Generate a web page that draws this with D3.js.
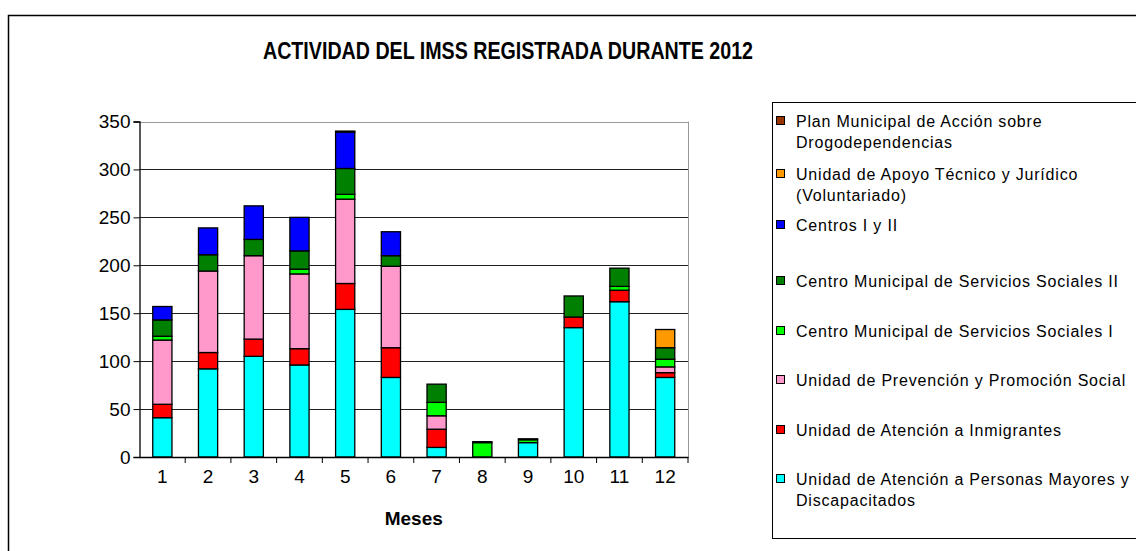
<!DOCTYPE html>
<html>
<head>
<meta charset="utf-8">
<script src="https://cdn.jsdelivr.net/npm/d3@7"></script>
<style>
  body { margin: 0; background: #fff; }
  svg { font-family: "Liberation Sans", Arial, sans-serif; }
</style>
</head>
<body>
<div id="chart"></div>
<script>
// Data
const months = ['1', '2', '3', '4', '5', '6', '7', '8', '9', '10', '11', '12'];
const yTicks = [0, 50, 100, 150, 200, 250, 300, 350];

const mayores      = [41, 92, 105, 96, 154, 83, 10, 0, 15, 135, 162, 83];
const inmigrantes  = [14, 17, 18, 17, 27, 31, 19, 0, 0, 11, 12, 5];
const prevencion   = [67, 85, 87, 78, 88, 85, 14, 0, 0, 0, 0, 6];
const cmss1        = [4, 0, 0, 5, 5, 0, 14, 15, 3, 0, 4, 8];
const cmss2        = [17, 17, 17, 19, 27, 11, 19, 1, 1, 22, 19, 12];
const centros      = [14, 28, 35, 35, 38, 25, 0, 0, 0, 0, 0, 0];
const apoyo        = [0, 0, 0, 0, 0, 0, 0, 0, 0, 0, 0, 19];
const plan         = [0, 0, 0, 0, 1, 0, 0, 0, 0, 0, 0, 0];

// bottom to top stacking order
const series = [
  { key: 'mayores', name: ['Unidad de Atención a Personas Mayores y', 'Discapacitados'], color: '#00ffff', values: mayores },
  { key: 'inmigrantes', name: ['Unidad de Atención a Inmigrantes'], color: '#ff0000', values: inmigrantes },
  { key: 'prevencion', name: ['Unidad de Prevención y Promoción Social'], color: '#ff99cc', values: prevencion },
  { key: 'cmss1', name: ['Centro Municipal de Servicios Sociales I'], color: '#00ff00', values: cmss1 },
  { key: 'cmss2', name: ['Centro Municipal de Servicios Sociales II'], color: '#008000', values: cmss2 },
  { key: 'centros', name: ['Centros I y II'], color: '#0000ff', values: centros },
  { key: 'apoyo', name: ['Unidad de Apoyo Técnico y Jurídico', '(Voluntariado)'], color: '#ff9900', values: apoyo },
  { key: 'plan', name: ['Plan Municipal de Acción sobre', 'Drogodependencias'], color: '#993300', values: plan }
];

const W = 1136, H = 551;
const svg = d3.select('#chart').append('svg')
  .attr('width', W)
  .attr('height', H);

// outer chart border
svg.append('rect')
  .attr('x', 8.5).attr('y', 15.5)
  .attr('width', W + 20).attr('height', H + 20)
  .attr('fill', 'none')
  .attr('stroke', '#000')
  .attr('stroke-width', 1.5);

// title is drawn in a narrow face in the original, so squeeze it to width
svg.append('text')
  .attr('x', 263)
  .attr('y', 59)
  .attr('font-weight', 'bold')
  .attr('font-size', 24)
  .attr('textLength', 490)
  .attr('lengthAdjust', 'spacingAndGlyphs')
  .text('ACTIVIDAD DEL IMSS REGISTRADA DURANTE 2012');

const plot = { left: 139.5, right: 688, top: 121.5, bottom: 457 };

const x = d3.scaleBand()
  .domain(months)
  .range([plot.left, plot.right])
  .paddingInner(0.58)
  .paddingOuter(0.29);

const y = d3.scaleLinear()
  .domain([0, 350])
  .range([plot.bottom, plot.top]);

// gridlines
svg.append('g')
  .selectAll('line')
  .data(yTicks.filter(d => d > 0))
  .join('line')
  .attr('x1', plot.left).attr('x2', plot.right)
  .attr('y1', d => Math.round(y(d)) + 0.5)
  .attr('y2', d => Math.round(y(d)) + 0.5)
  .attr('stroke', d => d === 350 ? '#999' : '#222')
  .attr('stroke-width', 1);

// right border of plot area
svg.append('line')
  .attr('x1', plot.right + 0.5).attr('x2', plot.right + 0.5)
  .attr('y1', plot.top).attr('y2', plot.bottom)
  .attr('stroke', '#999');

// stacked bars
const rows = months.map((m, i) => {
  const r = { month: m };
  series.forEach(s => { r[s.key] = s.values[i]; });
  return r;
});
const stack = d3.stack().keys(series.map(s => s.key));
const layers = stack(rows);

svg.append('g')
  .selectAll('g')
  .data(layers)
  .join('g')
  .attr('fill', (d, i) => series[i].color)
  .selectAll('rect')
  .data(d => d.filter(p => p[1] - p[0] > 0))
  .join('rect')
  .attr('x', d => x(d.data.month))
  .attr('y', d => y(d[1]))
  .attr('width', x.bandwidth())
  .attr('height', d => y(d[0]) - y(d[1]))
  .attr('stroke', '#000')
  .attr('stroke-width', 1.3);

// axes
const yAxis = svg.append('g')
  .attr('transform', `translate(${plot.left},0)`)
  .call(d3.axisLeft(y).tickValues(yTicks).tickSize(6).tickPadding(3));
yAxis.select('.domain').attr('stroke', '#000').attr('stroke-width', 1.3);
yAxis.selectAll('text')
  .attr('font-size', 19)
  .attr('fill', '#000')
  .attr('font-family', '"Liberation Sans", Arial, sans-serif');

const xAxis = svg.append('g')
  .attr('transform', `translate(0,${plot.bottom})`)
  .call(d3.axisBottom(x).tickSize(0).tickPadding(13));
xAxis.select('.domain').attr('stroke', '#000').attr('stroke-width', 1.3);
xAxis.selectAll('text')
  .attr('font-size', 19)
  .attr('fill', '#000')
  .attr('font-family', '"Liberation Sans", Arial, sans-serif');

// category boundary ticks
svg.append('g')
  .selectAll('line')
  .data(d3.range(1, months.length + 1))
  .join('line')
  .attr('x1', i => plot.left + i * x.step())
  .attr('x2', i => plot.left + i * x.step())
  .attr('y1', plot.bottom)
  .attr('y2', plot.bottom + 6)
  .attr('stroke', '#000');

svg.append('text')
  .attr('x', (plot.left + plot.right) / 2)
  .attr('y', 525)
  .attr('text-anchor', 'middle')
  .attr('font-weight', 'bold')
  .attr('font-size', 19)
  .text('Meses');

// legend
svg.append('rect')
  .attr('x', 772.5).attr('y', 102.5)
  .attr('width', 400).attr('height', 436)
  .attr('fill', '#fff')
  .attr('stroke', '#000');

const legendY = [121, 174, 225, 281, 331, 380, 430, 479];
const legendItems = series.slice().reverse();
const legend = svg.append('g')
  .selectAll('g')
  .data(legendItems)
  .join('g')
  .attr('transform', (d, i) => `translate(776,${legendY[i]})`);

legend.append('rect')
  .attr('x', 0.5).attr('y', -4.5)
  .attr('width', 8).attr('height', 8)
  .attr('fill', d => d.color)
  .attr('stroke', '#000');

legend.append('text')
  .attr('x', 20)
  .attr('font-size', 16)
  .attr('letter-spacing', 0.8)
  .attr('fill', '#000')
  .selectAll('tspan')
  .data(d => d.name)
  .join('tspan')
  .attr('x', 20)
  .attr('y', (d, i) => 5.5 + i * 21)
  .text(d => d);
</script>
</body>
</html>
